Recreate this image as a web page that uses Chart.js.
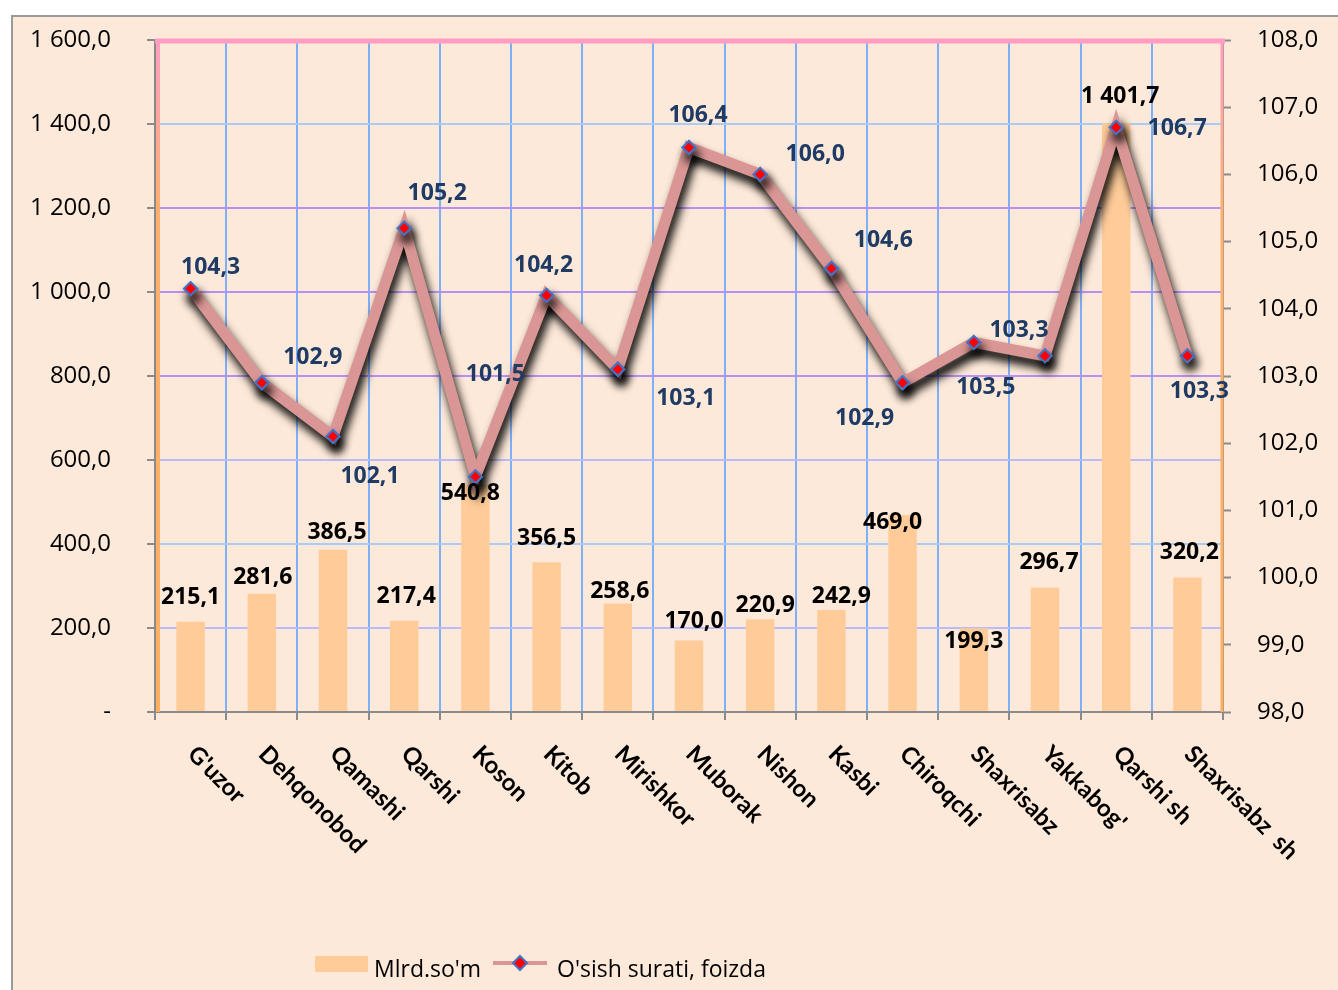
<!DOCTYPE html>
<html><head><meta charset="utf-8">
<script src="https://cdn.jsdelivr.net/npm/chart.js@4.4.0/dist/chart.umd.min.js"></script>
<style>html,body{margin:0;padding:0;background:#fff}canvas{display:block}</style>
</head><body>
<canvas id="c" width="1338" height="990"></canvas>
<script>
// ---- data ----
const categories = ["G'uzor","Dehqonobod","Qamashi","Qarshi","Koson","Kitob","Mirishkor","Muborak","Nishon","Kasbi","Chiroqchi","Shaxrisabz","Yakkabog'","Qarshi sh","Shaxrisabz  sh"];
const mlrdSom = [215.1, 281.6, 386.5, 217.4, 540.8, 356.5, 258.6, 170.0, 220.9, 242.9, 469.0, 199.3, 296.7, 1401.7, 320.2];
const osishSurati = [104.3, 102.9, 102.1, 105.2, 101.5, 104.2, 103.1, 106.4, 106.0, 104.6, 102.9, 103.5, 103.3, 106.7, 103.3];
const leftAxis = {min: 0, max: 1600, step: 200};
const rightAxis = {min: 98, max: 108, step: 1};
const seriesNames = ["Mlrd.so'm", "O'sish surati, foizda"];

// ---- label placement (style) ----
const barLabelShift = [[0,-24],[1,-16],[4,-17],[2,-24],[-5,9],[0,-24],[2,-12],[5,-19],[5,-14],[10,-14],[-10,7],[0,13],[4,-25],[4,-27],[2,-25]];
const lineLabelShift = [[20,-21],[51,-25],[37,40],[33,-35],[20,-102],[-3,-30],[68,29],[9,-32],[55,-20],[52,-28],[-38,36],[12,45],[-26,-25],[61,1],[12,36]];

const BG = '#FDE9D9';
const BAR = '#FFCC99';
const LINE = '#D99694';

function fmt(v, d) {
  const s = v.toFixed(d);
  const parts = s.split('.');
  const i = parts[0].replace(/\B(?=(\d{3})+(?!\d))/g, ' ');
  return parts[1] !== undefined ? i + ',' + parts[1] : i;
}

const decor = {
  id: 'decor',
  beforeDraw(chart) {
    const ctx = chart.ctx;
    ctx.save();
    ctx.fillStyle = '#fff';
    ctx.fillRect(0, 0, chart.width, chart.height);
    ctx.fillStyle = BG;
    ctx.fillRect(11, 15, chart.width - 11, chart.height - 15);
    ctx.strokeStyle = '#9a9a9a';
    ctx.lineWidth = 2;
    ctx.strokeRect(12, 16, chart.width + 10, chart.height + 10);
    ctx.restore();
  },
  beforeDatasetsDraw(chart) {
    const ctx = chart.ctx, a = chart.chartArea;
    ctx.save();
    let g = ctx.createLinearGradient(0, a.top, 0, a.bottom);
    g.addColorStop(0, '#FF9EC4'); g.addColorStop(0.25, '#FBB070'); g.addColorStop(1, '#FBB060');
    ctx.strokeStyle = g; ctx.lineWidth = 4;
    ctx.beginPath(); ctx.moveTo(a.left + 3, a.top); ctx.lineTo(a.left + 3, a.bottom); ctx.stroke();
    ctx.lineWidth = 3;
    ctx.beginPath(); ctx.moveTo(a.right - 1, a.top); ctx.lineTo(a.right - 1, a.bottom); ctx.stroke();
    ctx.strokeStyle = '#FF9EC0'; ctx.lineWidth = 5;
    ctx.beginPath(); ctx.moveTo(a.left, a.top + 1); ctx.lineTo(a.right + 2, a.top + 1); ctx.stroke();
    ctx.restore();
  },
  beforeDatasetDraw(chart, args) {
    if (args.index === 1) {
      const ctx = chart.ctx;
      ctx.save();
      ctx.shadowColor = 'rgba(0,0,0,1)';
      ctx.shadowBlur = 10;
      ctx.shadowOffsetX = 3;
      ctx.shadowOffsetY = 8;
    }
  },
  afterDatasetDraw(chart, args) {
    if (args.index === 1) {
      chart.ctx.restore();
      const meta = chart.getDatasetMeta(1);
      meta.data.forEach(p => p.draw(chart.ctx, chart.chartArea));
    }
  },
  afterDraw(chart) {
    const ctx = chart.ctx, a = chart.chartArea;
    const xs = chart.scales.x;
    ctx.save();
    ctx.fillStyle = '#000';
    ctx.font = 'bold 24px Lato';
    ctx.textAlign = 'left';
    ctx.textBaseline = 'middle';
    categories.forEach((c, i) => {
      const x = xs.getPixelForValue(i);
      ctx.save();
      ctx.translate(x + 1, a.bottom + 38);
      ctx.rotate(Math.PI / 4);
      ctx.fillText(c, 0, 0);
      ctx.restore();
    });
    ctx.textAlign = 'center';
    ctx.font = 'bold 23px "Open Sans"';
    const m0 = chart.getDatasetMeta(0);
    m0.data.forEach((b, i) => {
      const s = barLabelShift[i];
      ctx.fillText(fmt(mlrdSom[i], 1), b.x + s[0], b.y + s[1]);
    });
    ctx.fillStyle = '#1F3B64';
    const m1 = chart.getDatasetMeta(1);
    m1.data.forEach((p, i) => {
      const s = lineLabelShift[i];
      ctx.fillText(fmt(osishSurati[i], 1), p.x + s[0], p.y + s[1]);
    });
    // legend
    ctx.fillStyle = BAR;
    ctx.fillRect(315, 956, 53, 16);
    ctx.fillStyle = '#000';
    ctx.textAlign = 'left';
    ctx.textBaseline = 'alphabetic';
    ctx.font = '23px "Open Sans"';
    ctx.fillText(seriesNames[0], 374, 977);
    ctx.strokeStyle = LINE; ctx.lineWidth = 4;
    ctx.beginPath(); ctx.moveTo(493, 963); ctx.lineTo(547, 963); ctx.stroke();
    ctx.beginPath();
    ctx.moveTo(520, 956); ctx.lineTo(527, 963); ctx.lineTo(520, 970); ctx.lineTo(513, 963); ctx.closePath();
    ctx.fillStyle = '#FF0000'; ctx.fill();
    ctx.strokeStyle = '#4472C4'; ctx.lineWidth = 2; ctx.stroke();
    ctx.fillStyle = '#000';
    ctx.fillText(seriesNames[1], 557, 977);
    ctx.restore();
  }
};

const hGridColor = (v) => {
  if (v === 1400 || v === 400) return '#A9CBF5';
  if (v === 800 || v === 1000 || v === 1200) return '#B890F5';
  if (v === 200 || v === 600) return '#BDBAFA';
  return 'rgba(0,0,0,0)';
};

new Chart(document.getElementById('c'), {
  data: {
    labels: categories,
    datasets: [
      {
        type: 'bar', label: seriesNames[0], data: mlrdSom, yAxisID: 'y',
        backgroundColor: BAR, borderWidth: 0, barPercentage: 0.4, categoryPercentage: 1.0, order: 2
      },
      {
        type: 'line', label: seriesNames[1], data: osishSurati, yAxisID: 'y1',
        borderColor: LINE, borderWidth: 11, tension: 0, fill: false,
        pointStyle: 'rectRot', pointRadius: 6.5, pointBackgroundColor: '#FF0000',
        pointBorderColor: '#4472C4', pointBorderWidth: 2, order: 1
      }
    ]
  },
  options: {
    responsive: false,
    animation: false,
    events: [],
    layout: { padding: { top: 40, left: 0, right: 0, bottom: 0 } },
    plugins: { legend: { display: false }, tooltip: { enabled: false } },
    scales: {
      x: {
        type: 'category',
        offset: true,
        grid: { display: true, offset: true, color: '#7DB0F8', lineWidth: 2, tickColor: '#8a8a8a', tickLength: 8, tickWidth: 2 },
        border: { display: true, color: '#8a8a8a', width: 2 },
        ticks: { display: false },
        afterFit(s) { s.height = 990 - 712; s.paddingLeft = 0; s.paddingRight = 0; }
      },
      y: {
        position: 'left',
        min: leftAxis.min, max: leftAxis.max,
        ticks: {
          stepSize: leftAxis.step, padding: 36, color: '#000',
          font: { family: 'Open Sans', size: 24 },
          callback: (v) => v === 0 ? '-' : fmt(v, 1)
        },
        grid: {
          color: (c) => hGridColor(c.tick.value), lineWidth: 2,
          tickColor: '#8a8a8a', tickLength: 8, tickWidth: 2
        },
        border: { display: true, color: '#8a8a8a', width: 2 },
        afterFit(s) { s.width = 155; s.paddingTop = 0; s.paddingBottom = 0; }
      },
      y1: {
        position: 'right',
        min: rightAxis.min, max: rightAxis.max,
        ticks: {
          stepSize: rightAxis.step, padding: 26, color: '#000',
          font: { family: 'Open Sans', size: 24 },
          callback: (v) => fmt(v, 1)
        },
        grid: { drawOnChartArea: false, tickColor: '#8a8a8a', tickLength: 8, tickWidth: 2 },
        border: { display: true, color: '#8a8a8a', width: 2 },
        afterFit(s) { s.width = 1338 - 1223; s.paddingTop = 0; s.paddingBottom = 0; }
      }
    }
  },
  plugins: [decor]
});
</script>
</body></html>
